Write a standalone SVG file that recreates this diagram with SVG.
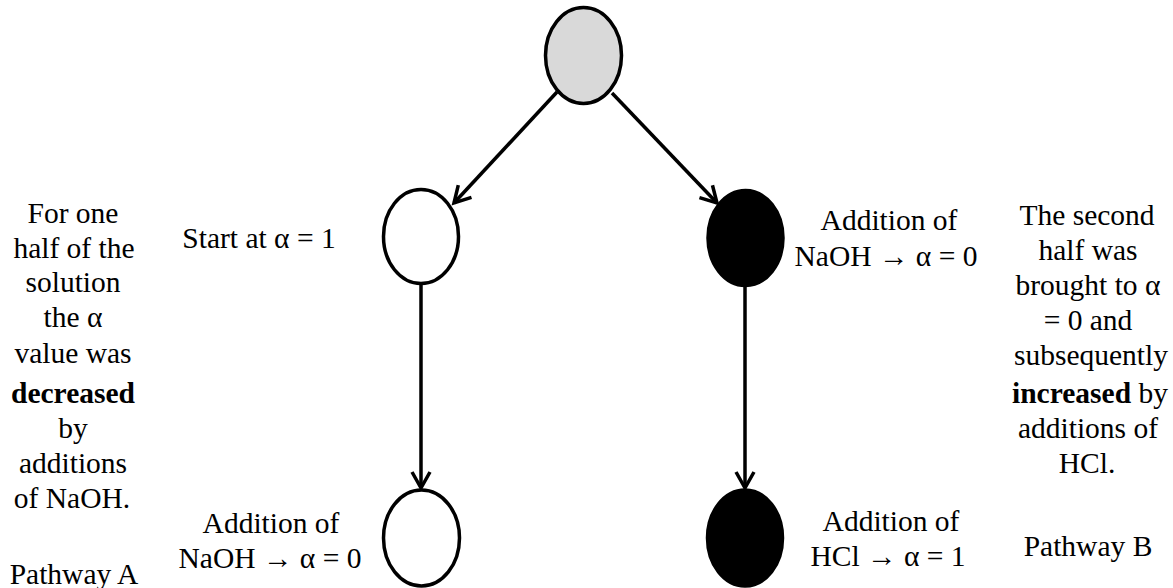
<svg xmlns="http://www.w3.org/2000/svg" width="1173" height="588" viewBox="0 0 1173 588">
<style>
  text { font-family: "Liberation Serif", "DejaVu Serif", serif; font-size: 29.5px; fill: #000; text-anchor: middle; }
  .b { font-weight: bold; }
  .node { stroke: #000; stroke-width: 3.5; }
  .edge { stroke: #000; stroke-width: 3.5; fill: none; }
</style>
<defs>
  <marker id="arr" markerUnits="userSpaceOnUse" markerWidth="28" markerHeight="28" refX="0" refY="0" viewBox="-22 -14 28 28" orient="auto">
    <path d="M-16,-9 L0,0 L-16,9" fill="none" stroke="#000" stroke-width="3.5" stroke-linejoin="miter"/>
  </marker>
</defs>
<rect width="1173" height="588" fill="#fff"/>
<g id="connectors">
  <line class="edge" x1="557" y1="92" x2="454" y2="203" marker-end="url(#arr)"/>
  <line class="edge" x1="612" y1="93" x2="717" y2="203" marker-end="url(#arr)"/>
  <line class="edge" x1="421" y1="285" x2="421" y2="488" marker-end="url(#arr)"/>
  <line class="edge" x1="745" y1="287" x2="745" y2="488" marker-end="url(#arr)"/>
</g>
<g id="node-top"><ellipse class="node" cx="583.5" cy="55.5" rx="38" ry="48" fill="#d9d9d9"/></g>
<g id="node-a1"><ellipse class="node" cx="421" cy="236.5" rx="37.5" ry="47" fill="#fff"/></g>
<g id="node-b1"><ellipse class="node" cx="745.5" cy="238" rx="37.5" ry="47.5" fill="#000"/></g>
<g id="node-a2"><ellipse class="node" cx="421.5" cy="538" rx="38" ry="48" fill="#fff"/></g>
<g id="node-b2"><ellipse class="node" cx="745" cy="538" rx="37.5" ry="48" fill="#000"/></g>
<g id="label-a1"><text x="259" y="248">Start at α = 1</text></g>
<g id="label-b1">
  <text x="889" y="230">Addition of</text>
  <text x="886" y="266">NaOH → α = 0</text>
</g>
<g id="label-a2">
  <text x="271" y="533">Addition of</text>
  <text x="270" y="568">NaOH → α = 0</text>
</g>
<g id="label-b2">
  <text x="891" y="531">Addition of</text>
  <text x="888" y="566">HCl → α = 1</text>
</g>
<g id="desc-a">
  <text x="73" y="223">For one</text>
  <text x="74" y="258">half of the</text>
  <text x="73" y="292">solution</text>
  <text x="73" y="327">the α</text>
  <text x="73" y="363">value was</text>
  <text x="73" y="403" class="b">decreased</text>
  <text x="73" y="438">by</text>
  <text x="73" y="473">additions</text>
  <text x="72" y="508">of NaOH.</text>
  <text x="74" y="584">Pathway A</text>
</g>
<g id="desc-b">
  <text x="1087" y="225">The second</text>
  <text x="1088" y="260">half was</text>
  <text x="1088" y="295">brought to α</text>
  <text x="1088" y="330">= 0 and</text>
  <text x="1091" y="365">subsequently</text>
  <text x="1090" y="403"><tspan class="b">increased</tspan> by</text>
  <text x="1088" y="438">additions of</text>
  <text x="1087" y="473">HCl.</text>
  <text x="1088" y="556">Pathway B</text>
</g>
</svg>
